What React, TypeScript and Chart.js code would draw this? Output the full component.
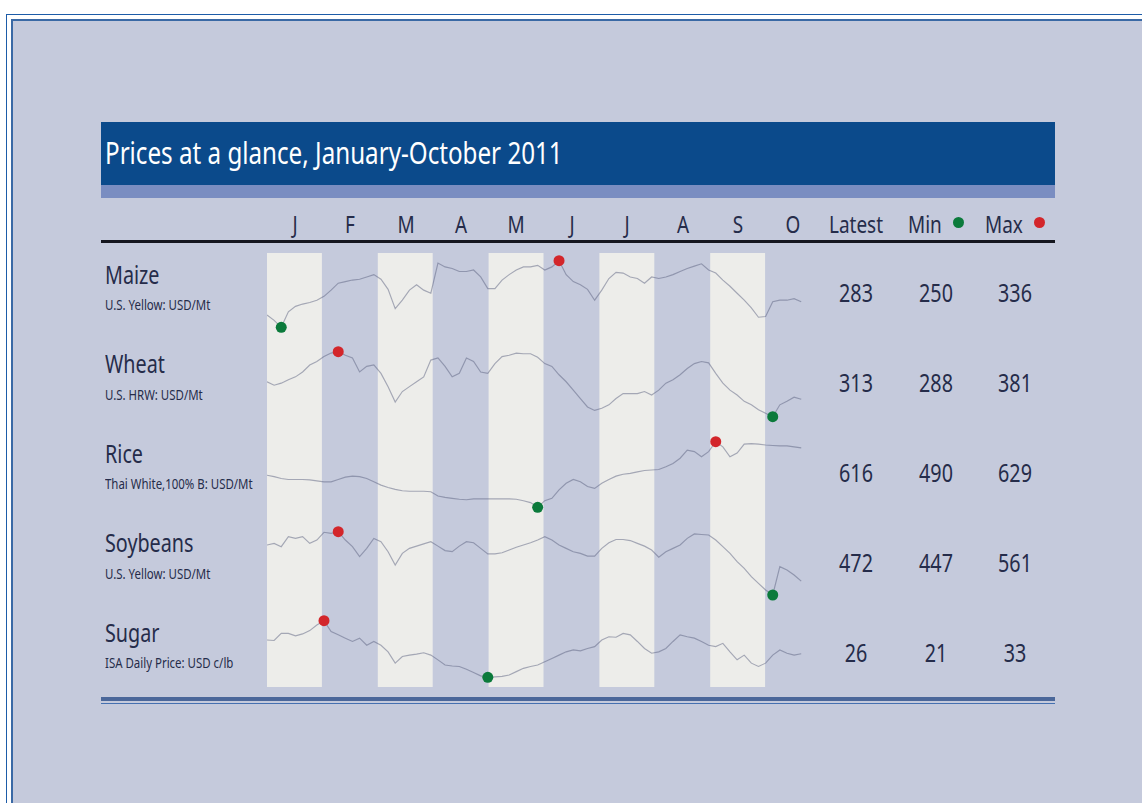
import React, { useEffect, useRef } from 'react';
import { Chart, registerables } from 'chart.js';

Chart.register(...registerables);

// ---------------- data ----------------
const TITLE = 'Prices at a glance, January-October 2011';
const MONTHS = ['J', 'F', 'M', 'A', 'M', 'J', 'J', 'A', 'S', 'O'];
const COMMODITIES = ['Maize', 'Wheat', 'Rice', 'Soybeans', 'Sugar'];
const UNITS = [
  'U.S. Yellow: USD/Mt',
  'U.S. HRW: USD/Mt',
  'Thai White,100% B: USD/Mt',
  'U.S. Yellow: USD/Mt',
  'ISA Daily Price: USD c/lb',
];
const LATEST = [283, 313, 616, 472, 26];
const MIN_VAL = [250, 288, 490, 447, 21];
const MAX_VAL = [336, 381, 629, 561, 33];

// samples every 9/70 of a month (~4 days), starting 1 January
const SAMPLE_STEP = 9 / 70;

const MAIZE = [
  266, 259, 250, 270, 277, 280, 282, 285, 290, 298,
  307, 309, 311, 312, 315, 318, 312, 299, 274, 285,
  298, 305, 298, 294, 333, 328, 326, 322, 322, 324,
  315, 300, 300, 311, 318, 324, 328, 328, 330, 324,
  328, 336, 318, 309, 305, 299, 285, 298, 313, 321,
  320, 315, 313, 307, 315, 313, 315, 318, 322, 326,
  329, 332, 324, 320, 311, 303, 294, 285, 275, 263,
  264, 283, 285, 285, 287, 283,
];
const WHEAT = [
  338, 333, 336, 341, 345, 352, 362, 367, 374, 379,
  381, 376, 372, 352, 360, 362, 350, 331, 309, 324,
  331, 338, 345, 369, 372, 360, 345, 350, 372, 367,
  352, 350, 364, 374, 376, 379, 378, 378, 373, 364,
  360, 348, 338, 326, 314, 302, 297, 300, 305, 314,
  321, 321, 321, 324, 319, 326, 336, 341, 348, 357,
  364, 367, 365, 350, 336, 326, 319, 310, 305, 298,
  293, 288, 305, 310, 316, 313,
];
const RICE = [
  558, 555, 551, 549, 549, 549, 548, 546, 544, 544,
  549, 554, 556, 555, 551, 544, 537, 532, 528, 525,
  524, 524, 524, 523, 514, 511, 509, 507, 506, 508,
  508, 508, 508, 508, 508, 507, 504, 500, 490, 504,
  509, 527, 541, 549, 544, 534, 530, 541, 549, 556,
  560, 562, 565, 568, 569, 570, 576, 583, 594, 611,
  608, 597, 608, 629, 618, 597, 605, 624, 625, 624,
  622, 621, 620, 620, 618, 616,
];
const SOYBEANS = [
  537, 540, 534, 552, 549, 552, 540, 546, 560, 558,
  561, 546, 534, 516, 531, 549, 543, 525, 501, 522,
  531, 535, 539, 543, 535, 527, 525, 535, 543, 541,
  531, 521, 521, 523, 528, 533, 537, 541, 546, 552,
  546, 537, 531, 525, 522, 517, 517, 531, 541, 547,
  547, 545, 540, 535, 528, 515, 525, 531, 537, 549,
  557, 556, 555, 546, 534, 522, 507, 495, 480, 468,
  456, 447, 498, 492, 483, 472,
];
const SUGAR = [
  28.9, 28.8, 30.3, 30.3, 29.8, 30.2, 30.9, 32.1, 33.0, 30.7,
  30.0, 29.3, 28.6, 29.3, 27.8, 28.6, 27.8, 26.4, 24.0, 25.4,
  25.7, 25.9, 26.2, 25.7, 24.7, 23.6, 23.4, 23.3, 22.7, 22.0,
  21.3, 21.0, 21.1, 21.2, 21.5, 22.2, 22.9, 23.3, 23.6, 24.3,
  25.0, 25.7, 26.4, 26.8, 26.6, 27.1, 27.5, 28.9, 29.6, 29.5,
  30.3, 30.0, 28.6, 27.1, 26.1, 26.4, 27.1, 28.6, 30.0, 29.6,
  29.3, 28.6, 27.8, 27.5, 28.2, 26.4, 24.7, 25.7, 24.0, 23.3,
  24.0, 25.7, 26.8, 26.1, 25.7, 26.0,
];
const SERIES = [MAIZE, WHEAT, RICE, SOYBEANS, SUGAR];

// ---------------- layout / style ----------------
const PLOT = { left: 267, top: 253, width: 554, height: 434 };
// pixel offsets (from plot top) where each row's max and min sit
const ROW_HI_PX = [7.7, 98.7, 188.7, 278.7, 367.7];
const ROW_LO_PX = [74.3, 163.7, 254.3, 342, 424.3];
const BG = '#c5cadc';
const STRIPE = '#ededea';
const LINE = 'rgba(92,98,128,0.5)';
const GREEN = '#0b7a3b';
const RED = '#d3262b';
const TEXT = '#252c4a';
const FONT = '"Noto Sans", "Open Sans", sans-serif';
const COND = 0.79;

function Txt(props: {
  x: number; y: number; size: number; color?: string; align?: 'left' | 'center'; k?: number; children: any;
}) {
  const { x, y, size, color = TEXT, align = 'left', k = COND, children } = props;
  const center = align === 'center';
  return (
    <div
      style={{
        position: 'absolute',
        left: x,
        top: y - 0.888 * size,
        fontFamily: FONT,
        fontSize: size,
        lineHeight: `${size}px`,
        color,
        whiteSpace: 'nowrap',
        transform: center ? `translateX(-50%) scaleX(${k})` : `scaleX(${k})`,
        transformOrigin: center ? '50% 50%' : '0 50%',
      }}
    >
      {children}
    </div>
  );
}

const stripesPlugin = {
  id: 'monthStripes',
  beforeDatasetsDraw(chart: any) {
    const { ctx, chartArea, scales } = chart;
    const x = scales.x;
    ctx.save();
    ctx.fillStyle = STRIPE;
    for (let m = 0; m < MONTHS.length; m += 2) {
      const x0 = x.getPixelForValue(m);
      const x1 = x.getPixelForValue(m + 1);
      ctx.fillRect(x0, chartArea.top, x1 - x0 - 0.5, chartArea.bottom - chartArea.top);
    }
    ctx.restore();
  },
};

export default function App() {
  const ref = useRef<HTMLCanvasElement | null>(null);

  useEffect(() => {
    const H = PLOT.height;
    const scales: any = {
      x: { type: 'linear', min: 0, max: MONTHS.length, display: false },
    };
    const datasets = SERIES.map((vals, r) => {
      const hi = Math.max(...vals);
      const lo = Math.min(...vals);
      const iHi = vals.indexOf(hi);
      const iLo = vals.indexOf(lo);
      const s = (ROW_LO_PX[r] - ROW_HI_PX[r]) / (hi - lo);
      scales['y' + r] = {
        type: 'linear',
        display: false,
        min: lo - (H - ROW_LO_PX[r]) / s,
        max: hi + ROW_HI_PX[r] / s,
      };
      return {
        label: COMMODITIES[r],
        data: vals.map((v, i) => ({ x: i * SAMPLE_STEP, y: v })),
        yAxisID: 'y' + r,
        borderColor: LINE,
        borderWidth: 1.15,
        tension: 0,
        clip: false,
        pointRadius: (c: any) => (c.dataIndex === iHi || c.dataIndex === iLo ? 5.5 : 0),
        pointHoverRadius: 0,
        pointBorderWidth: 0,
        pointBackgroundColor: (c: any) => (c.dataIndex === iHi ? RED : GREEN),
        pointBorderColor: 'rgba(0,0,0,0)',
      };
    });
    const chart = new Chart(ref.current as HTMLCanvasElement, {
      type: 'line',
      data: { datasets } as any,
      options: {
        responsive: false,
        animation: false,
        events: [],
        layout: { padding: 0 },
        plugins: { legend: { display: false }, tooltip: { enabled: false } },
        scales,
      } as any,
      plugins: [stripesPlugin],
    });
    return () => chart.destroy();
  }, []);

  const monthW = PLOT.width / MONTHS.length;

  return (
    <div
      style={{
        position: 'absolute', left: 0, top: 0, width: 1142, height: 803,
        overflow: 'hidden', background: '#ffffff',
      }}
    >
      {/* frames */}
      <div style={{ position: 'absolute', left: 6, top: 14, width: 1300, height: 1000, border: '1px solid #1d5ca8' }} />
      <div style={{ position: 'absolute', left: 11, top: 19, width: 1300, height: 1000, border: '2px solid #3a69a5', background: BG }} />

      {/* title bar */}
      <div style={{ position: 'absolute', left: 101, top: 122, width: 954, height: 63, background: '#0b4a8b' }} />
      <div style={{ position: 'absolute', left: 101, top: 185, width: 954, height: 13, background: '#7a8dc1' }} />
      <Txt x={105} y={165} size={30} k={0.806} color="#ffffff">{TITLE}</Txt>

      {/* header */}
      {MONTHS.map((m, i) => (
        <Txt key={'m' + i} x={PLOT.left + monthW * (i + 0.5)} y={233} size={24} align="center">{m}</Txt>
      ))}
      <Txt x={856} y={233} size={24} align="center">Latest</Txt>
      <Txt x={908} y={233} size={24}>Min</Txt>
      <div style={{ position: 'absolute', left: 958 - 5.5, top: 222 - 5.5, width: 11, height: 11, borderRadius: '50%', background: GREEN }} />
      <Txt x={985} y={233} size={24}>Max</Txt>
      <div style={{ position: 'absolute', left: 1039 - 5.5, top: 222 - 5.5, width: 11, height: 11, borderRadius: '50%', background: RED }} />
      <div style={{ position: 'absolute', left: 101, top: 240, width: 954, height: 3, background: '#15161f' }} />

      {/* rows */}
      {COMMODITIES.map((c, r) => {
        const base = 284 + 89.5 * r;
        const nb = 302 + 90 * r;
        return (
          <React.Fragment key={c}>
            <Txt x={105} y={base} size={25}>{c}</Txt>
            <Txt x={105} y={base + 26} size={14.5}>{UNITS[r]}</Txt>
            <Txt x={856} y={nb} size={25} align="center">{LATEST[r]}</Txt>
            <Txt x={936} y={nb} size={25} align="center">{MIN_VAL[r]}</Txt>
            <Txt x={1015} y={nb} size={25} align="center">{MAX_VAL[r]}</Txt>
          </React.Fragment>
        );
      })}

      {/* chart */}
      <canvas
        ref={ref}
        width={PLOT.width}
        height={PLOT.height}
        style={{ position: 'absolute', left: PLOT.left, top: PLOT.top, width: PLOT.width, height: PLOT.height }}
      />

      {/* bottom rules */}
      <div style={{ position: 'absolute', left: 101, top: 697, width: 954, height: 3.5, background: '#4b679a' }} />
      <div style={{ position: 'absolute', left: 101, top: 702.5, width: 954, height: 1.8, background: '#4570b0' }} />
    </div>
  );
}
